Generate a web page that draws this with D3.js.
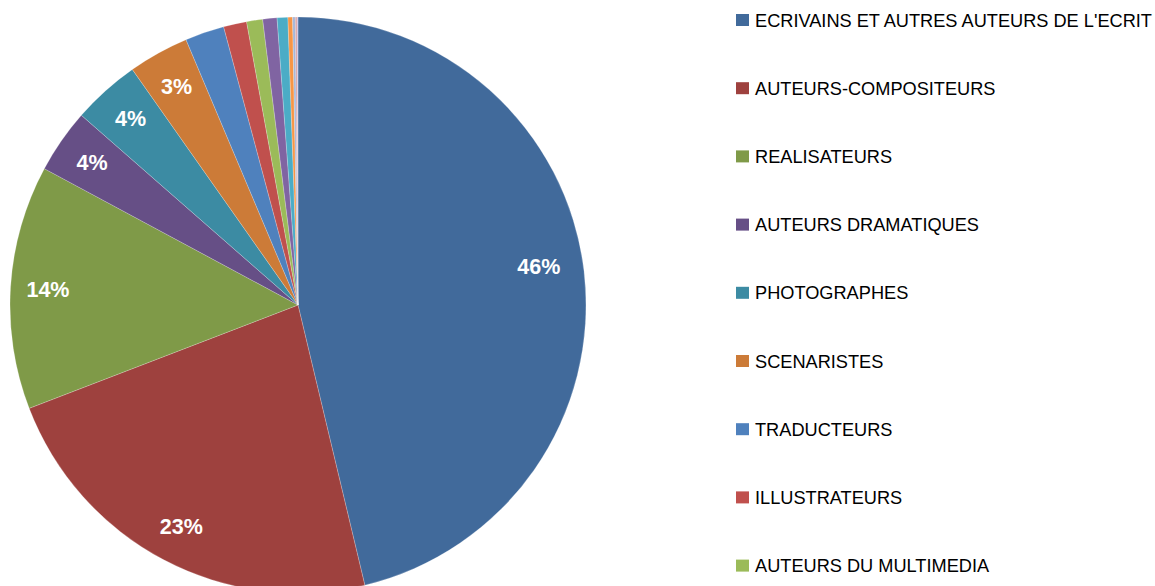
<!DOCTYPE html>
<html>
<head>
<meta charset="utf-8">
<script src="https://cdn.jsdelivr.net/npm/d3@7"></script>
<style>
  body { margin: 0; background: #fff; }
  svg { display: block; font-family: "Liberation Sans", Arial, sans-serif; }
</style>
</head>
<body>
<svg id="PieAuteurs" width="1155" height="586"></svg>
<script>
var categories = [
    "ECRIVAINS ET AUTRES AUTEURS DE L'ECRIT",
    "AUTEURS-COMPOSITEURS",
    "REALISATEURS",
    "AUTEURS DRAMATIQUES",
    "PHOTOGRAPHES",
    "SCENARISTES",
    "TRADUCTEURS",
    "ILLUSTRATEURS",
    "AUTEURS DU MULTIMEDIA",
    "GRAPHISTES",
    "PEINTRES",
    "CHOREGRAPHES",
    "SCULPTEURS",
    "DESSINATEURS",
    "AUTRES"
];
var percents = [46.3, 22.9, 13.7, 3.6, 3.8, 3.4, 2.2, 1.3, 0.9, 0.8, 0.6, 0.26, 0.15, 0.1, 0.05];
var colors = ['#416A9B', '#9E413E', '#7F9A48', '#664F86', '#3C8BA3', '#CC7B38',
              '#4F81BD', '#C0504D', '#9BBB59', '#8064A2', '#4BACC6', '#F79646',
              '#A5B6D7', '#D9A0A0', '#C6B5DC'];

(function PieAuteurs() {
    var svg = d3.select("#PieAuteurs"),
        height = +svg.attr("height"),
        cx = 298,
        cy = 305,
        radius = 288;

    var data = categories.map(function(c, i) {
        return { name: c, value: percents[i] };
    });
    var total = d3.sum(percents);

    var color = d3.scaleOrdinal().domain(categories).range(colors);

    var pie = d3.pie().sort(null).value(function(d) { return d.value; });

    var path = d3.arc()
                 .outerRadius(radius)
                 .innerRadius(0);

    var label = d3.arc()
                  .outerRadius(radius * 0.87)
                  .innerRadius(radius * 0.87);

    var g = svg.append("g")
               .attr("transform", "translate(" + cx + "," + cy + ")");

    var arc = g.selectAll(".arc")
               .data(pie(data))
               .enter().append("g")
               .attr("class", "arc");

    arc.append("path")
       .attr("d", path)
       .attr("fill", function(d) { return color(d.data.name); })
       .attr("stroke", "#ffffff")
       .attr("stroke-opacity", 0.35)
       .attr("stroke-width", 0.6);

    arc.filter(function(d) { return d.data.value / total >= 0.03; })
       .append("text")
       .attr("transform", function(d) {
            var c = label.centroid(d);
            if (d.index === 0) { c = [c[0] - 8, c[1] - 9]; }
            return "translate(" + c + ")";
       })
       .attr("text-anchor", "middle")
       .attr("dy", "0.36em")
       .attr("fill", "#ffffff")
       .attr("font-weight", "bold")
       .style("font-size", "21.5px")
       .text(function(d) { return d3.format(".0%")(d.data.value / total); });

    // legende (coupee en bas comme dans l'original : seules les entrees visibles)
    var step = 68.2;
    var legend = svg.append("g")
                    .attr("transform", "translate(736,20)");

    var item = legend.selectAll(".item")
                     .data(data.filter(function(d, i) { return 20 + i * step + 9 < height; }))
                     .enter().append("g")
                     .attr("class", "item")
                     .attr("transform", function(d, i) { return "translate(0," + (i * step) + ")"; });

    item.append("rect")
        .attr("x", 0)
        .attr("y", -6)
        .attr("width", 13)
        .attr("height", 12)
        .attr("fill", function(d) { return color(d.name); });

    item.append("text")
        .attr("x", 19)
        .attr("dy", "0.36em")
        .attr("fill", "#000000")
        .style("font-size", "18.2px")
        .text(function(d) { return d.name; });
}());
</script>
</body>
</html>
